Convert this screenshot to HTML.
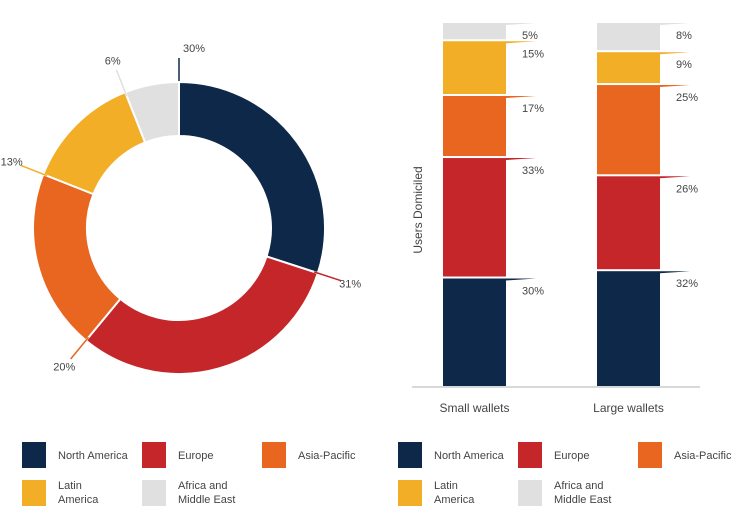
<!DOCTYPE html>
<html><head><meta charset="utf-8"><style>
body{margin:0;background:#fff;width:740px;height:519px;overflow:hidden;font-family:"Liberation Sans",sans-serif}
svg text{font-family:"Liberation Sans",sans-serif;fill:#444}
</style></head><body>
<svg width="740" height="519">
<g id="donut"></g>
<g id="bars"></g>
<g id="legends"></g>
</svg>
<script>
const regions=["North America","Europe","Asia-Pacific","Latin America","Africa and Middle East"];
const colors=["#0d2848","#c4262a","#e8661f","#f2ae27","#e0e0e0"];
const donutValues=[30,31,20,13,6];
const smallWallets=[30,33,17,15,5];
const largeWallets=[32,26,25,9,8];
const barCategories=["Small wallets","Large wallets"];
const NS="http://www.w3.org/2000/svg";
function mk(tag,attrs,parent){const e=document.createElementNS(NS,tag);for(const k in attrs)e.setAttribute(k,attrs[k]);parent.appendChild(e);return e;}
const dg=document.getElementById('donut');
const cx=179,cy=228,R=146,r=92;
const tot=donutValues.reduce((a,b)=>a+b,0);
let acc=0;
donutValues.forEach((v,i)=>{
 const a0=acc/tot*2*Math.PI;acc+=v;const a1=acc/tot*2*Math.PI;
 const p=(a,rad)=>[cx+rad*Math.sin(a),cy-rad*Math.cos(a)];
 const [x0,y0]=p(a0,R),[x1,y1]=p(a1,R),[x2,y2]=p(a1,r),[x3,y3]=p(a0,r);
 const lg=(a1-a0)>Math.PI?1:0;
 const path=mk('path',{d:`M${x0},${y0}A${R},${R} 0 ${lg} 1 ${x1},${y1}L${x2},${y2}A${r},${r} 0 ${lg} 0 ${x3},${y3}Z`,fill:colors[i],stroke:'#fff','stroke-width':2},dg);
 
 
 const [lx0,ly0]=p(a0,R-4),[lx1,ly1]=p(a0,R+24);
 const ln=mk('line',{x1:lx0,y1:ly0,x2:lx1,y2:ly1,stroke:colors[i],'stroke-width':1.5},dg);
 
 
 const [tx,ty]=p(a0,R+34);
 let ax=tx,anchor='middle';
 if(Math.abs(Math.sin(a0))<0.1){anchor='start';ax=tx+4;}
 const t=mk('text',{x:ax,y:ty+4,'font-size':11,'text-anchor':anchor},dg);
 t.textContent=v+'%';
 
 
});
const bg=document.getElementById('bars');
const base=387,scale=3.65;
const axl=mk('line',{x1:412,y1:base,x2:700,y2:base,stroke:'#ccc','stroke-width':1.5},bg);


const yt=mk('text',{x:0,y:0,'font-size':12,transform:'translate(422,210) rotate(-90)','text-anchor':'middle'},bg);
yt.textContent='Users Domiciled';


[smallWallets,largeWallets].forEach((series,j)=>{
 const bx=443+j*154,bw=63;let y=base;
 series.forEach((v,i)=>{
  const h=v*scale;y-=h;
  const rc=mk('rect',{x:bx,y:y+1,width:bw,height:h-2,fill:colors[i]},bg);
  
  
  const tk=mk('path',{d:`M${bx+bw},${y+1}L${bx+bw+30},${y+1}L${bx+bw},${y+3}Z`,fill:colors[i]},bg);
  
  
  const t=mk('text',{x:bx+bw+16,y:y+17,'font-size':11},bg);
  t.textContent=v+'%';
  
  
 });
 const c=mk('text',{x:bx+bw/2,y:412,'font-size':12,'text-anchor':'middle'},bg);
 c.textContent=barCategories[j];
 
 
});
const lgG=document.getElementById('legends');
[22,398].forEach((ox,k)=>{
 regions.forEach((name,i)=>{
  const col=i%3,row=Math.floor(i/3);
  const x=ox+col*120,y=442+row*38;
  const s=mk('rect',{x:x,y:y,width:24,height:26,fill:colors[i]},lgG);
  
  
  const words=name==='Latin America'?['Latin','America']:name==='Africa and Middle East'?['Africa and','Middle East']:[name];
  words.forEach((w,wi)=>{
   const t=mk('text',{x:x+36,y:y+(words.length>1?9+wi*14:17),'font-size':11},lgG);
   t.textContent=w;
   
   
  });
 });
});
</script>
</body></html>
